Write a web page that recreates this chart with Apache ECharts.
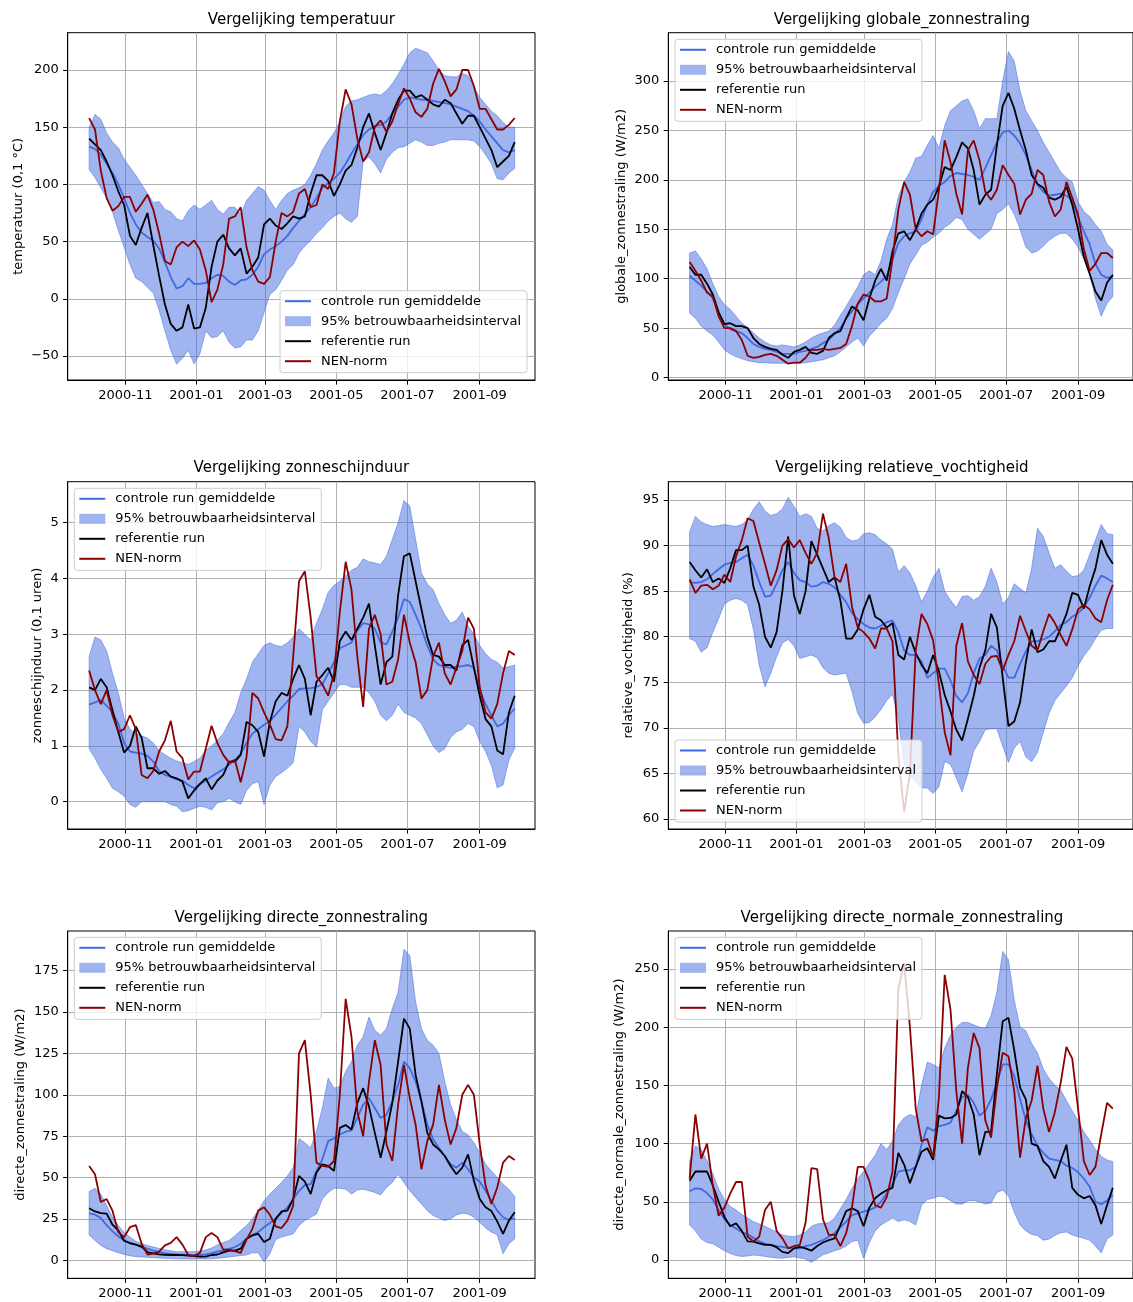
<!DOCTYPE html>
<html><head><meta charset="utf-8">
<script src="https://cdn.jsdelivr.net/npm/echarts@6/dist/echarts.min.js"></script>
<style>html,body{margin:0;padding:0;background:#fff}#c{width:1133px;height:1302px}</style>
</head><body><div id="c"></div>
<script>
// ---------- data ----------
const stepDays = 5; // samples every 5 days from 2000-10-01
const xTickLabels = ['2000-11','2001-01','2001-03','2001-05','2001-07','2001-09'];
const legendNames = ['controle run gemiddelde','95% betrouwbaarheidsinterval','referentie run','NEN-norm'];

const tempTicks = [-50,0,50,100,150,200];
const tempMean = [133,131,126,118,110,100,88,75,65,58,54,51,44,32,19,9,11,18,13,13,14,18,21,20,15,12,16,17,21,28,39,43,46,50,55,62,
 68,74,80,88,97,101,105,110,118,127,135,143,148,151,152,155,162,168,174,176,175,174,174,173,172,171,170,168,166,164,160,155,148,142,136,130,128,130];
const tempRef = [140,135,130,120,108,94,82,55,47,62,75,47,20,-5,-22,-28,-25,-5,-26,-25,-8,28,50,56,44,38,44,22,28,36,65,70,64,61,66,72,
 70,72,92,108,108,103,90,100,112,117,132,150,162,145,130,145,162,174,182,182,176,178,174,170,168,174,171,162,153,160,160,150,140,130,115,120,125,137];
const tempNen = [158,148,112,88,77,81,89,89,76,83,91,78,57,33,30,45,50,46,51,43,25,-3,8,30,70,72,80,45,25,15,13,19,50,75,72,76,
 92,96,80,82,100,96,110,155,183,170,140,120,128,150,156,146,155,170,184,175,163,159,166,188,201,190,177,183,200,200,186,166,166,157,148,148,152,158];
const tempHigh = [150,161,157,145,137,132,122,115,108,100,92,84,85,78,76,70,68,77,82,78,82,86,78,74,80,80,74,86,92,98,95,86,78,86,92,95,
 97,100,108,118,130,138,145,155,168,173,174,176,178,179,178,182,188,196,205,215,219,217,215,208,200,195,194,194,197,195,185,176,170,164,160,154,150,150];
const tempLow = [113,106,97,88,76,60,45,30,18,15,10,5,-10,-28,-45,-57,-52,-45,-57,-48,-28,-34,-33,-28,-38,-43,-42,-36,-36,-28,-12,4,8,16,25,30,
 40,46,51,57,62,68,72,75,70,67,72,120,124,118,110,122,128,132,133,136,139,137,134,134,136,137,139,139,139,139,138,133,126,118,105,104,110,114];

const globTicks = [0,50,100,150,200,250,300];
const globMean = [103,98,93,87,80,66,54,49,47,45,40,34,31,29,28,26,24,24,24,26,27,29,31,35,38,44,50,60,67,74,80,86,92,97,103,120,
 136,143,146,148,160,175,188,194,198,204,207,206,205,203,200,212,225,238,248,250,245,237,225,210,195,188,184,185,186,184,180,162,148,135,115,104,101,102];
const globRef = [112,104,104,95,84,66,54,55,52,52,50,40,34,31,29,28,23,20,26,28,31,25,24,27,40,45,47,60,72,68,58,80,98,110,98,128,
 146,148,139,150,166,175,180,193,213,210,223,238,232,210,175,185,190,235,275,288,272,250,230,205,196,192,182,180,183,193,175,150,122,105,87,78,96,104];
const globNen = [117,108,98,86,82,62,50,50,47,38,22,20,21,23,24,22,18,14,15,15,20,28,28,29,28,29,30,34,52,75,84,82,77,77,80,120,
 170,198,185,150,143,148,145,190,240,218,186,165,230,240,220,188,180,190,215,205,196,165,180,186,210,205,178,163,170,198,182,165,130,108,115,126,126,121];
const globHigh = [126,128,120,110,95,82,74,69,62,55,51,45,40,36,33,32,33,32,31,33,36,40,43,45,47,53,63,72,82,92,104,108,104,118,140,155,
 183,198,208,222,224,235,245,232,255,270,275,280,282,270,252,262,262,262,300,330,320,290,270,260,250,238,228,218,208,202,198,178,168,163,155,148,135,129];
const globLow = [65,60,52,47,43,36,28,24,21,19,17,16,15,15,14.5,14.5,14.5,14.5,14.5,14.5,15,16,17,18,20,22,26,31,36,40,32,42,48,55,60,70,
 86,100,115,124,134,137,142,146,152,156,162,160,150,145,140,145,150,166,170,176,165,150,132,126,128,133,139,143,146,146,140,132,120,105,80,62,75,82];

const zonTicks = [0,1,2,3,4,5];
const zonMean = [1.74,1.78,1.82,1.72,1.60,1.40,1.05,0.90,0.88,0.86,0.82,0.72,0.55,0.48,0.45,0.40,0.38,0.30,0.24,0.31,0.38,0.45,0.52,0.58,0.66,0.75,0.86,1.05,1.22,1.30,1.38,1.44,1.56,1.68,1.80,1.90,
 2.02,2.03,2.03,2.06,2.1,2.3,2.5,2.75,2.8,2.85,3.07,3.2,3.18,3.1,2.85,2.82,3.05,3.3,3.63,3.58,3.35,3.1,2.8,2.55,2.45,2.42,2.4,2.42,2.43,2.45,2.4,2.0,1.75,1.55,1.35,1.4,1.55,1.67];
const zonRef = [2.05,2.0,2.2,2.05,1.64,1.25,0.88,1.0,1.35,1.15,0.6,0.6,0.5,0.55,0.45,0.42,0.36,0.06,0.20,0.32,0.42,0.22,0.38,0.48,0.72,0.72,0.84,1.43,1.37,1.25,0.81,1.43,1.8,1.95,1.9,2.2,
 2.45,2.2,1.55,2.15,2.27,2.4,2.15,2.88,3.05,2.9,3.1,3.3,3.55,2.8,2.1,2.5,2.6,3.7,4.4,4.45,3.95,3.45,2.95,2.63,2.6,2.45,2.45,2.35,2.8,2.9,2.4,1.9,1.48,1.35,0.92,0.85,1.6,1.9];
const zonNen = [2.35,2.0,1.75,2.0,1.55,1.25,1.3,1.55,1.3,0.48,0.42,0.55,0.9,1.1,1.45,0.9,0.78,0.4,0.54,0.54,0.95,1.36,1.05,0.84,0.70,0.75,0.35,0.8,1.95,1.85,1.6,1.38,1.12,1.10,1.35,2.6,
 3.95,4.13,3.3,2.25,2.1,1.9,2.3,3.4,4.3,3.8,2.6,1.7,3.1,3.35,3.0,2.1,2.15,2.55,3.35,2.85,2.5,1.85,2.0,2.6,2.85,2.3,2.1,2.4,2.7,3.3,3.1,2.05,1.6,1.49,1.75,2.3,2.7,2.63];
const zonHigh = [2.6,2.95,2.9,2.7,2.3,1.95,1.5,1.3,1.22,1.18,1.14,1.05,0.92,0.84,0.78,0.73,0.70,0.67,0.72,0.78,0.92,1.0,1.1,1.22,1.42,1.6,1.95,2.2,2.5,2.65,2.8,2.85,2.8,2.78,2.85,2.95,
 3.1,3.0,2.9,3.2,3.45,3.75,3.88,3.95,4.05,4.15,4.2,4.35,4.3,4.28,4.25,4.4,4.7,5.0,5.4,5.3,4.7,4.1,3.9,3.8,3.55,3.35,3.2,3.25,3.4,3.15,3.0,2.8,2.65,2.55,2.5,2.4,2.42,2.45];
const zonLow = [0.95,0.78,0.58,0.42,0.24,0.18,0.10,-0.05,-0.10,0.0,0.0,0.0,0.0,0.0,-0.05,-0.08,-0.18,-0.16,-0.12,-0.08,-0.1,-0.15,-0.02,0.0,0.06,0.0,-0.05,0.2,0.32,0.36,-0.05,0.3,0.45,0.52,0.6,0.7,
 1.35,1.25,1.08,0.98,1.65,1.8,1.95,2.1,2.1,2.05,2.05,2.05,1.95,1.8,1.55,1.45,1.55,1.75,1.6,1.55,1.5,1.4,1.2,1.0,0.88,0.95,1.15,1.25,1.3,1.4,1.35,1.08,0.9,0.65,0.25,0.3,0.75,0.96];

const humTicks = [60,65,70,75,80,85,90,95];
const humMean = [86.0,85.9,86.0,86.3,86.9,87.4,87.9,88.1,88.2,88.6,89.0,87.8,86.0,84.4,84.5,85.8,87.3,88.2,87.0,86.2,86.0,85.5,85.6,86.0,85.8,85.4,84.6,83.8,82.6,81.9,81.4,81.0,80.9,81.2,81.6,81.8,
 80.5,78.5,78.0,78.0,77.3,75.5,76.0,76.5,76.5,75.2,73.5,72.8,73.8,76.0,77.6,78.0,79.0,78.5,76.8,75.5,75.5,77.0,78.4,79.5,79.5,79.7,80.0,80.6,81.3,81.6,82.2,82.6,83.2,84.3,85.6,86.7,86.4,86.0];
const humRef = [88.2,87.3,86.5,87.4,86.0,86.4,85.9,87.5,89.5,89.5,90.0,85.5,83.5,80.0,78.8,80.5,85.0,91.0,84.5,82.5,85.0,90.5,89.0,87.5,86.0,86.5,84.0,79.8,79.8,80.8,83.0,84.6,82.2,81.8,81.0,81.5,
 78.0,77.5,80.0,78.2,76.9,76.0,78.0,76.2,73.6,71.8,69.8,68.6,71.0,73.5,76.6,78.5,82.5,81.0,75.5,70.2,70.7,72.8,77.2,80.8,78.3,78.6,79.5,79.5,80.9,82.5,84.8,84.6,83.1,85.5,87.5,90.6,89.0,88.0];
const humNen = [86.3,84.8,85.6,85.7,85.2,85.6,86.8,86.0,88.8,90.6,93.0,92.7,90.3,88.0,85.6,87.3,90.0,90.7,89.8,90.6,89.2,88.0,89.2,93.5,90.8,86.5,86.0,88.0,83.3,81.0,80.5,79.8,78.7,80.9,80.9,79.5,
 67.0,60.8,65.0,78.5,82.5,81.4,79.6,74.8,69.5,67.0,79.0,81.5,77.3,75.8,74.8,77.0,77.8,77.9,76.3,78.0,79.5,82.3,80.6,79.0,78.5,80.6,82.5,81.5,80.2,79.0,80.8,83.0,83.5,83.0,82.0,81.6,84.0,85.7];
const humHigh = [91.5,93.2,92.6,92.3,92.1,92.2,92.3,92.2,92.1,92.3,92.8,94.0,94.8,93.8,93.3,93.5,94.0,95.3,94.3,93.2,93.5,93.2,91.9,91.6,92.2,92.5,92.0,90.9,90.5,90.6,91.3,91.4,91.2,90.6,90.2,89.6,
 87.1,87.8,87.0,85.6,83.8,85.0,86.5,87.5,85.0,84.0,83.2,84.4,84.5,84.0,84.4,85.5,87.5,86.0,83.6,84.3,85.8,85.3,84.8,87.5,91.9,91.0,89.2,87.5,87.9,87.2,86.6,86.7,87.3,89.0,90.6,92.3,91.3,91.2];
const humLow = [79.8,79.5,78.3,78.8,80.5,82.0,83.6,84.0,84.2,84.0,83.5,80.8,76.9,74.5,76.0,77.8,79.3,79.7,79.0,77.6,77.8,78.0,77.7,76.6,76.0,75.8,75.9,76.0,74.0,71.6,70.5,70.6,71.2,72.0,73.0,73.7,
 71.0,66.0,64.7,64.1,63.4,63.4,62.8,63.5,66.3,66.0,64.5,63.0,65.0,67.5,68.5,69.8,69.9,69.9,68.0,66.2,67.8,68.5,66.8,66.3,67.3,69.5,71.6,73.0,73.8,74.6,75.5,76.8,77.9,78.7,79.8,80.7,80.9,80.9];

const dirTicks = [0,25,50,75,100,125,150,175];
const dirMean = [28.4,27.6,25.5,21.2,17.5,14.5,12,10.5,9.5,8,7,5.8,5.0,4.3,3.8,3.6,3.4,3.2,3.2,3.3,3.6,4.3,5.2,6.0,6.9,8.0,10,13,15.4,17,20,22.5,25.2,28.5,32,37,
 42,45.5,46,54,61,72,73.7,76,77.7,78.5,86,94,98,92,86,88,96,106,120,116,108,96,82,73,68,63,58,56,59,55,50,47.5,42,36,30,26,24.5,25.5];
const dirRef = [31.4,29.5,28.5,28.2,21.5,18,11.8,10.3,9.5,8.3,5,4.2,3.6,3.3,3.2,3.2,3.1,2.8,2.6,2.2,2.2,3.2,3.5,4.8,5.8,5.8,7,13,15,16,11,13,25,29.5,30,37,
 51,47.5,40,53,58,57,54,80,81.7,79,95,104,93,77,62,78,95,120,146,140,112,96,77,70,67,63,57,52,56,64,48,37,32,29.8,23.5,16,24,29];
const dirNen = [57,52,35.2,37,30,17,14,20,21.3,10,3.5,4.0,5.2,9,10.5,14,9.5,3.2,2.5,4.5,14,16.5,14,6.5,6.5,5.5,4.5,12.5,19,30,32,27.5,20.5,19.5,24,33,
 125,133,100,59,57,56.5,60,100,158,135,90,75,108,133,118,70,60,94,118,98,82,55,72,82,106,85,70,80,100,106,100,70,45,34,44,59,63,60.6];
const dirHigh = [41.5,43.5,40,33,26,21,17,14,11.5,10,9,8,7.2,6.4,5.8,5.2,5.2,5.2,5.2,5.6,6.2,7.5,9.3,10.8,12,14.8,18,21,25,30,36,40,43.5,47,51,56,
 73.5,71,68,78,92,110,104,105,114,120,130,135,147,139,136,140,152,162,188,184,156,140,133,130,125,108,94,85,78,75.7,71,65,58,54,50,46,43,38.5];
const dirLow = [15.3,12,9,7,5.8,4.6,3.5,2.8,2.2,2.0,1.8,1.6,1.4,1.2,1.1,0.9,0.8,0.8,0.8,0.8,0.8,0.9,1.2,1.6,2.0,2.4,2.9,3.2,4.6,4.5,-1,4,12.5,14,15,16,
 21,24,26,28,37,41,43.5,43.5,43,40,42.5,43,42,41,39.5,44,47,52,47,42,38,34,30,27,25.5,24,25,27.4,28.5,28,26,23,19.5,17,15.5,4,10,13];

const norTicks = [0,50,100,150,200,250];
const norMean = [59,61.5,61,57.5,52,43,35,30,27,24,22,19,16,14,13,12,11.2,10.2,10,10,12,13,15,17,20,23,28,33,38.5,40,41.5,43,45,50,57,65,
 76,77,77,80,99,114,111,115,116,118,128,140,142,135,124,128,138,152,168,168,158,138,120,108,98,92,87,86,85,81,79,75.5,70,63,50,48,51,56];
const norRef = [68,76,76,76,64,50,37,29,31.5,25,16,15.8,14.3,13,13,11,7,6,10,11.3,10,8,12,15,17,18.6,30,42,44.4,42,29,45,53,57,60,62,
 92,82,66,80,93,96,86,124,121.7,122,125,145,140,125,90,110,110,160,205,208,180,148,138,100,98,85,80,70,85,99,62,56,53,55,47,31,47,62];
const norNen = [70,125,87,100,64,38,45,57,67,67,20,16,20,43,50,25,18.6,10,12,13,32,79,78,35,21.5,21.5,12,23,45,80,80,68,47,45,54,76,
 233,255,200,130,102,104,88,140,245,215,145,100,165,195,182,120,105,148,178,175,145,88,122,137,167,130,110,127,152,183,173,130,85,73,80,108,135,130];
const norHigh = [85,98,95,85,74,61,52,46,43,39,36,33,31,29,26.5,24,21.5,20.5,20,21.5,24,29,31,31.5,32,36,44,52,61.5,70,76,83,90,100,95,102,
 116,122,125,123,150,170,168,165,182,193,200,204,204,202,200,199,210,230,265,258,223,200,197,186,178,164,156,150,146,137,128,120,110,103,95,89,86,84.5];
const norLow = [30,25,18,15,14,11,8,5.5,3.8,3,3.5,4.2,3.8,3,2.4,1.8,1.5,2.2,2.8,1.8,0.8,-2,1,4.5,6,8,9.5,12,15.8,17,1.4,15,25,30,33,36,
 33,34.5,33,30,47,52,53,55,54,51,48,48,51,51,50,48,49,58,60,55,41,30,25,22,21,17,18,21,23.5,24,21.5,20,18.6,17,12,6,18,21.5];

const panels = [
  {title:'Vergelijking temperatuur', yName:'temperatuur (0,1 °C)', ticks:tempTicks, mean:tempMean, ref:tempRef, nen:tempNen, high:tempHigh, low:tempLow},
  {title:'Vergelijking globale_zonnestraling', yName:'globale_zonnestraling (W/m2)', ticks:globTicks, mean:globMean, ref:globRef, nen:globNen, high:globHigh, low:globLow},
  {title:'Vergelijking zonneschijnduur', yName:'zonneschijnduur (0,1 uren)', ticks:zonTicks, mean:zonMean, ref:zonRef, nen:zonNen, high:zonHigh, low:zonLow},
  {title:'Vergelijking relatieve_vochtigheid', yName:'relatieve_vochtigheid (%)', ticks:humTicks, mean:humMean, ref:humRef, nen:humNen, high:humHigh, low:humLow},
  {title:'Vergelijking directe_zonnestraling', yName:'directe_zonnestraling (W/m2)', ticks:dirTicks, mean:dirMean, ref:dirRef, nen:dirNen, high:dirHigh, low:dirLow},
  {title:'Vergelijking directe_normale_zonnestraling', yName:'directe_normale_zonnestraling (W/m2)', ticks:norTicks, mean:norMean, ref:norRef, nen:norNen, high:norHigh, low:norLow}
];

// ---------- layout / style ----------
const colLeft = [67.7, 668.3], rowTop = [32.7, 481.7, 931], plotW = 467.3, plotH = 347.3;
const titleY = [19.7, 468.3, 917.7];
const yLimits = [[-71,232.6],[-2.5,349],[-0.489,5.735],[58.9,97.01],[-10.88,198.97],[-15.72,282.6]];
const nameGaps = [43,40,24,33,41,42];
const legendPos = [[280,290.7],[675,39.3],[74.3,488.3],[675,740],[74.3,937.3],[675,937.3]];
const FONT = 'DejaVu Sans';
const C_MEAN = '#4169e1', C_BAND = 'rgba(65,105,225,0.5)', C_REF = '#000000', C_NEN = '#8b0000';
const DAY = 86400000;
const t0 = new Date(2000, 9, 1).getTime();
const tEnd = new Date(2001, 8, 30).getTime();
const xMin = t0 - 18.4 * DAY, xMax = tEnd + 18.4 * DAY;
const xTickValues = xTickLabels.map(s => { const p = s.split('-').map(Number); return new Date(p[0], p[1] - 1, 1).getTime(); });
function dateAt(i) { return new Date(2000, 9, 1 + i * stepDays).getTime(); }
function pairs(arr) { return arr.map((v, i) => [dateAt(i), v]); }
function xLabel(v) {
  let best = 0, bd = Infinity;
  xTickValues.forEach((t, k) => { const d = Math.abs(t - v); if (d < bd) { bd = d; best = k; } });
  return xTickLabels[best];
}
const linePath = 'path://M0,0L26,0L26,2L0,2Z';

function bandRenderer(low, high) {
  return function (params, api) {
    if (params.dataIndex !== 0) return null;
    const upper = high.map((v, k) => api.coord([dateAt(k), v]));
    const lower = low.map((v, k) => api.coord([dateAt(k), v])).reverse();
    return {type:'polygon', shape:{points: upper.concat(lower)},
      style:{fill:C_BAND, stroke:C_BAND, lineWidth:1}};
  };
}

const option = {animation:false, textStyle:{fontFamily:FONT}, grid:[], xAxis:[], yAxis:[], series:[], legend:[], title:[]};

panels.forEach((p, i) => {
  const r = Math.floor(i / 2), c = i % 2;
  option.grid.push({left:colLeft[c], top:rowTop[r], width:plotW, height:plotH, show:true, borderColor:'#000', borderWidth:1, backgroundColor:'transparent', containLabel:false});
  option.title.push({text:p.title, left:colLeft[c] + plotW / 2, top:titleY[r], textAlign:'center', textVerticalAlign:'middle', padding:0,
    textStyle:{fontSize:15, fontWeight:'normal', color:'#000', fontFamily:FONT}});
  option.xAxis.push({type:'value', gridIndex:i, min:xMin, max:xMax, scale:true,
    axisLine:{show:true, onZero:false, lineStyle:{color:'#000', width:1}},
    axisTick:{show:true, customValues:xTickValues, length:4.6, lineStyle:{color:'#000', width:1}},
    axisLabel:{show:true, customValues:xTickValues, formatter:xLabel, fontSize:13, color:'#000', fontFamily:FONT, margin:9},
    splitLine:{show:true, lineStyle:{color:'#b0b0b0', width:1}}});
  option.yAxis.push({type:'value', gridIndex:i, min:yLimits[i][0], max:yLimits[i][1],
    name:p.yName, nameLocation:'middle', nameGap:nameGaps[i], nameTextStyle:{fontSize:13, color:'#000', fontFamily:FONT},
    axisLine:{show:true, onZero:false, lineStyle:{color:'#000', width:1}},
    axisTick:{show:true, customValues:p.ticks, length:4.6, lineStyle:{color:'#000', width:1}},
    axisLabel:{show:true, customValues:p.ticks, formatter:v => String(v).replace('-', '\u2212'), fontSize:13, color:'#000', fontFamily:FONT, margin:9},
    splitLine:{show:true, lineStyle:{color:'#b0b0b0', width:1}}});
  const common = {type:'line', xAxisIndex:i, yAxisIndex:i, symbol:'none', showSymbol:false, silent:true, animation:false};
  option.series.push(Object.assign({}, common, {name:legendNames[0], data:pairs(p.mean), lineStyle:{color:C_MEAN, width:1.8}, itemStyle:{color:C_MEAN}, z:2}));
  option.series.push({type:'custom', name:legendNames[1], xAxisIndex:i, yAxisIndex:i, silent:true, animation:false,
    data:p.low.map((v, k) => [dateAt(k), v, p.high[k]]), encode:{x:0, y:[1,2]},
    renderItem:bandRenderer(p.low, p.high), itemStyle:{color:C_BAND}, z:3});
  option.series.push(Object.assign({}, common, {name:legendNames[2], data:pairs(p.ref), lineStyle:{color:C_REF, width:1.8}, itemStyle:{color:C_REF}, z:4}));
  option.series.push(Object.assign({}, common, {name:legendNames[3], data:pairs(p.nen), lineStyle:{color:C_NEN, width:1.8}, itemStyle:{color:C_NEN}, z:5}));
  option.legend.push({show:true, orient:'vertical', left:legendPos[i][0], top:legendPos[i][1], selectedMode:false,
    data:legendNames.map((n, k) => k === 1 ? {name:n, icon:'rect', itemStyle:{color:C_BAND, borderWidth:0}} : {name:n, icon:linePath}),
    itemWidth:26, itemHeight:10, itemGap:7, padding:[4,6,5,5],
    backgroundColor:'rgba(255,255,255,0.8)', borderColor:'#cccccc', borderWidth:1, borderRadius:3,
    itemStyle:{borderWidth:0},
    textStyle:{fontSize:13, color:'#000', fontFamily:FONT, padding:[0,0,0,5]}, z:10});
});

const chart = echarts.init(document.getElementById('c'), null, {renderer:'canvas'});
chart.setOption(option);
</script>
</body></html>
